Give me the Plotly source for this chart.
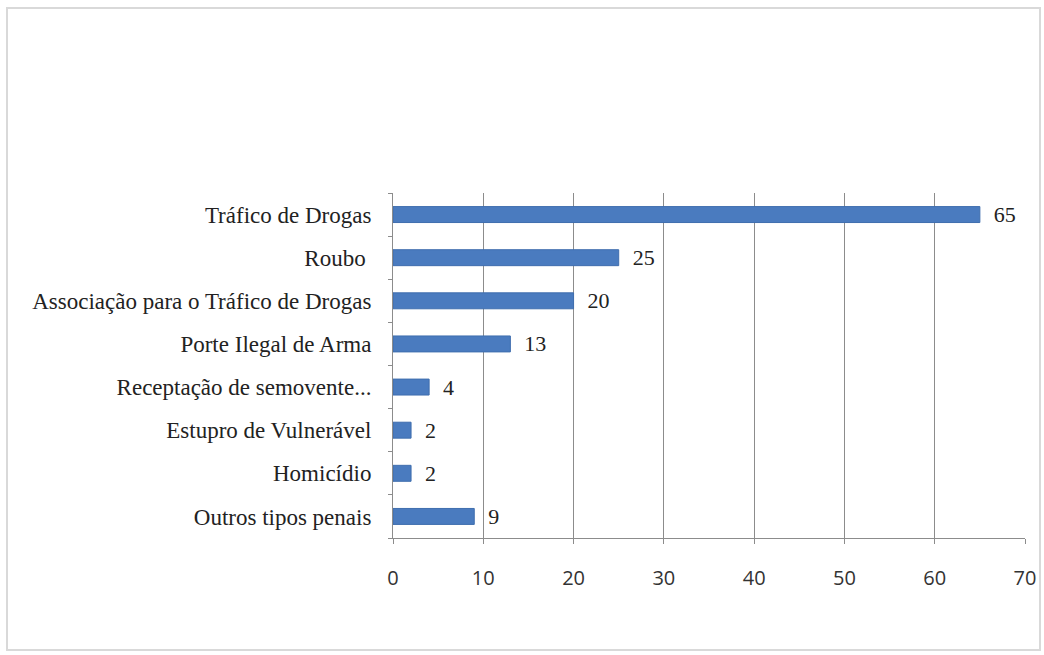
import plotly.graph_objects as go

categories = [
    "Tráfico de Drogas",
    "Roubo ",
    "Associação para o Tráfico de Drogas",
    "Porte Ilegal de Arma",
    "Receptação de semovente...",
    "Estupro de Vulnerável",
    "Homicídio",
    "Outros tipos penais",
]
values = [65, 25, 20, 13, 4, 2, 2, 9]
x_ticks = [0, 10, 20, 30, 40, 50, 60, 70]

SERIF = "'Liberation Serif', 'Times New Roman', serif"

fig = go.Figure(
    go.Bar(
        x=values,
        y=categories,
        orientation="h",
        marker=dict(color="#4a7bbf", line=dict(color="#3f6eae", width=1)),
        text=[f"  {v}" for v in values],
        textposition="outside",
        constraintext="none",
        cliponaxis=False,
        textfont=dict(family=SERIF, size=22, color="#222"),
        width=0.37,
    )
)

fig.update_layout(
    width=1044,
    height=655,
    margin=dict(l=393, r=19, t=193, b=117),
    paper_bgcolor="white",
    plot_bgcolor="white",
    showlegend=False,
    xaxis=dict(
        range=[0, 70],
        tickvals=x_ticks,
        automargin=False,
        showgrid=True,
        gridcolor="#8c8c8c",
        gridwidth=1,
        zeroline=False,
        showline=True,
        linecolor="#8c8c8c",
        ticks="outside",
        ticklen=5,
        tickcolor="#8c8c8c",
        tickfont=dict(family="Open Sans", size=20, color="#333"),
        ticklabelstandoff=17,
    ),
    yaxis=dict(
        categoryorder="array",
        categoryarray=categories[::-1],
        automargin=False,
        showline=True,
        linecolor="#8c8c8c",
        ticks="outside",
        ticklen=4,
        tickcolor="#8c8c8c",
        tickson="boundaries",
        showgrid=False,
        tickfont=dict(family=SERIF, size=23, color="#222"),
        ticklabelstandoff=16,
    ),
    shapes=[
        dict(
            type="rect", xref="paper", yref="paper",
            x0=-386 / 632, x1=1 + 15 / 632,
            y0=-112 / 345, y1=1 + 185 / 345,
            line=dict(color="#d9d9d9", width=2),
            fillcolor="rgba(0,0,0,0)",
            layer="below",
        )
    ],
)

fig.write_html("out.html")
